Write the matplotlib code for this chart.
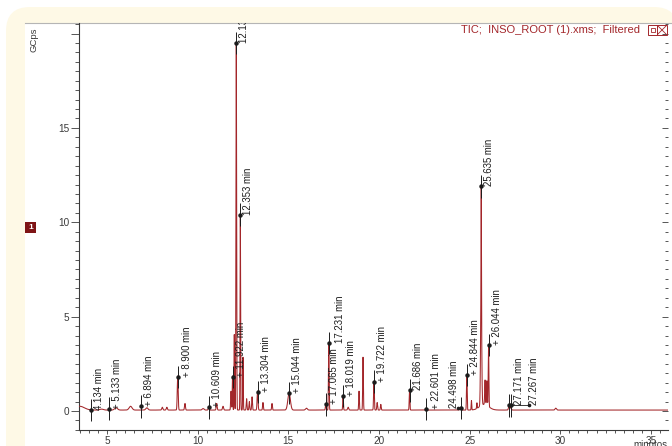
import numpy as np
import matplotlib.pyplot as plt
from matplotlib.patches import FancyBboxPatch, Rectangle
from matplotlib.transforms import IdentityTransform
from matplotlib.ticker import MultipleLocator

plt.rcParams['font.family'] = ['Liberation Sans', 'DejaVu Sans']

W, H = 672, 446
RED = "#a3262a"
INK = "#1c1c1c"
AXIS = "#3a3a3a"
CREAM = "#fef9e6"

# ── peak table: retention time (min), height (GCps), sigma (min)
peak_rt = [3.5, 4.7, 5.5, 6.3, 7.2, 8.05, 8.3, 8.9, 9.3, 10.3, 10.609, 11.05,
           11.4, 11.84, 11.922, 12.02, 12.13, 12.353, 12.5, 12.7, 12.85, 13.0,
           13.304, 13.6, 14.1, 15.044, 16.0, 17.065, 17.231, 18.019, 18.3, 18.9,
           19.12, 19.722, 19.9, 20.1, 21.686, 22.601, 24.498, 24.844, 25.1, 25.4,
           25.8, 25.635, 25.64, 25.85, 25.95, 26.044, 27.171, 27.267, 29.75]
peak_height = [0.2, 0.05, 0.12, 0.2, 0.12, 0.15, 0.15, 1.8, 0.35, 0.08, 0.15, 0.35,
               0.2, 1.0, 1.8, 4.0, 19.4, 10.3, 2.8, 0.6, 0.45, 0.7,
               1.0, 0.4, 0.35, 0.9, 0.1, 0.3, 3.55, 0.75, 0.15, 1.0,
               2.8, 1.5, 0.4, 0.3, 1.05, 0.1, 0.15, 1.85, 0.5, 0.3,
               0.3, 6.3, 5.3, 1.3, 1.3, 3.2, 0.2, 0.15, 0.1]
peak_sigma = [0.25, 0.1, 0.08, 0.08, 0.06, 0.03, 0.03, 0.025, 0.025, 0.05, 0.025, 0.025,
              0.03, 0.02, 0.015, 0.015, 0.018, 0.015, 0.015, 0.02, 0.02, 0.02,
              0.025, 0.02, 0.02, 0.07, 0.05, 0.02, 0.018, 0.018, 0.03, 0.018,
              0.018, 0.02, 0.02, 0.02, 0.018, 0.03, 0.03, 0.018, 0.015, 0.015,
              0.25, 0.03, 0.01, 0.02, 0.02, 0.018, 0.03, 0.03, 0.04]
baseline_level = 0.05

# ── labelled peaks
label_rt = [4.134, 5.133, 6.894, 8.900, 10.609, 11.922, 12.13, 12.353, 13.304,
            15.044, 17.065, 17.231, 18.019, 19.722, 21.686, 22.601, 24.498,
            24.844, 25.635, 26.044, 27.171, 27.267]
label_y = [0.05, 0.12, 0.25, 1.8, 0.2, 1.8, 19.5, 10.4, 1.0,
           0.95, 0.35, 3.6, 0.8, 1.55, 1.1, 0.1, 0.15,
           1.9, 11.9, 3.5, 0.3, 0.3]
label_text = ["4.134 min", "+ 5.133 min", "+ 6.894 min", "+ 8.900 min", "+ 10.609 min",
              "+ 11.922 min", "12.13 min", "12.353 min", "+ 13.304 min", "+ 15.044 min",
              "+ 17.065 min", "17.231 min", "+ 18.019 min", "+ 19.722 min", "21.686 min",
              "+ 22.601 min", "24.498 min", "+ 24.844 min", "25.635 min", "+ 26.044 min",
              "27.171 min", "27.267 min"]

x_ticks = [5, 10, 15, 20, 25, 30, 35]
y_ticks = [0, 5, 10, 15, 20]
y_ticklabels = ["0", "5", "10", "15", ""]

fig = plt.figure(figsize=(W / 100, H / 100), dpi=100, facecolor="white")

# cream frame + white panel (pixel coords)
fig.patches.append(FancyBboxPatch((6, -60), 672, 499, boxstyle="round,pad=0,rounding_size=24",
                                  transform=IdentityTransform(), facecolor=CREAM,
                                  edgecolor="none", zorder=-3))
fig.patches.append(Rectangle((25, -5), 660, H - 23 + 5, transform=IdentityTransform(),
                             facecolor="white", edgecolor="none", zorder=-2))
fig.lines.append(plt.Line2D([25, W], [H - 23, H - 23], transform=IdentityTransform(),
                            color="#b5b5b5", lw=0.8, zorder=-1))

left, right, top, bottom = 79, 668, 23, 430
ax = fig.add_axes([left / W, (H - bottom) / H, (right - left) / W, (bottom - top) / H])
ax.set_facecolor("none")

t = np.linspace(3.4, 36.0, 30000)
sig = np.full_like(t, baseline_level)
for rt, h, s in zip(peak_rt, peak_height, peak_sigma):
    sig += h * np.exp(-0.5 * ((t - rt) / s) ** 2)
ax.plot(t, sig, color=RED, lw=0.75, zorder=3)

# peak markers
ax.vlines(label_rt, np.array(label_y) - 0.6, np.array(label_y) + 0.6,
          color=INK, lw=0.7, zorder=4)
ax.plot(label_rt, label_y, "o", color=INK, ms=2.2, zorder=5)

offsets = {"24.498 min": (-12, 0), "27.171 min": (5, 0), "27.267 min": (18, 0),
           "17.231 min": (6, 0), "+ 8.900 min": (4, 0), "+ 22.601 min": (5, 0)}
for rt, y, txt in zip(label_rt, label_y, label_text):
    dx, dy = offsets.get(txt, (3, 0))
    ax.annotate(txt, (rt, y), xytext=(dx, dy), textcoords="offset pixels",
                rotation=90, ha="left", va="bottom", fontsize=6.9, color=INK,
                annotation_clip=False, clip_on=True, zorder=6)

# leader lines for the shifted labels
for rt, y, txt in zip(label_rt, label_y, label_text):
    if txt in ("24.498 min", "27.267 min"):
        dx = offsets[txt][0]
        x_end = rt + (dx + (9 if dx < 0 else 0)) / 18.13
        ax.plot([rt, x_end], [y, y], color=INK, lw=0.6, zorder=4)
        ax.plot([x_end], [y], "o", color=INK, ms=1.6, zorder=5)

ax.set_xlim(3.456, 35.94)
ax.set_ylim(-1.007, 20.56)

ax.set_xticks(x_ticks)
ax.xaxis.set_minor_locator(MultipleLocator(0.5))
ax.set_yticks(y_ticks, y_ticklabels)
ax.yaxis.set_minor_locator(MultipleLocator(0.5))
ax.tick_params(axis="x", which="major", length=3.2, width=0.6, pad=0.8,
               labelsize=7.2, colors=AXIS)
ax.tick_params(axis="x", which="minor", length=1.8, width=0.6, colors=AXIS)
ax.tick_params(axis="y", which="major", length=5.8, width=0.6, pad=1,
               labelsize=7.2, colors=AXIS)
ax.tick_params(axis="y", which="minor", length=2.9, width=0.6, colors=AXIS)
for side in ("top", "right"):
    ax.spines[side].set_visible(False)
for side in ("left", "bottom"):
    ax.spines[side].set_color(AXIS)
    ax.spines[side].set_linewidth(0.8)

ax2 = ax.twinx()
ax2.set_ylim(ax.get_ylim())
ax2.set_yticks(y_ticks, [""] * len(y_ticks))
ax2.yaxis.set_minor_locator(MultipleLocator(0.5))
ax2.tick_params(axis="y", which="major", direction="in", length=4.3, width=0.6, colors=AXIS)
ax2.tick_params(axis="y", which="minor", direction="in", length=2.2, width=0.6, colors=AXIS)
for side in ax2.spines:
    ax2.spines[side].set_visible(False)

# header texts
fig.text(640 / W, (H - 30) / H, "TIC;  INSO_ROOT (1).xms;  Filtered", ha="right",
         va="center", fontsize=8, color=RED)
fig.patches.append(Rectangle((648, H - 35), 9, 10, transform=IdentityTransform(),
                             facecolor="none", edgecolor=RED, lw=0.7, zorder=5))
fig.patches.append(Rectangle((651, H - 32), 4, 4, transform=IdentityTransform(),
                             facecolor="none", edgecolor=RED, lw=0.6, zorder=5))
fig.patches.append(Rectangle((657, H - 35), 10, 10, transform=IdentityTransform(),
                             facecolor="none", edgecolor=RED, lw=0.7, zorder=5))
fig.lines.append(plt.Line2D([658, 666], [H - 34, H - 26], transform=IdentityTransform(),
                            color=RED, lw=0.6, zorder=5))
fig.lines.append(plt.Line2D([658, 666], [H - 26, H - 34], transform=IdentityTransform(),
                            color=RED, lw=0.6, zorder=5))

fig.text(34 / W, (H - 40) / H, "GCps", rotation=90, ha="center", va="center",
         fontsize=6.8, color=AXIS)
fig.text(650 / W, (H - 440) / H, "minutos", ha="center", va="top", fontsize=7, color=AXIS)

# sample badge
fig.patches.append(Rectangle((25, H - 233), 11, 11, transform=IdentityTransform(),
                             facecolor="#7f1416", edgecolor="none", zorder=5))
fig.text(30.5 / W, (H - 227.5) / H, "1", ha="center", va="center", fontsize=6,
         color="white", fontweight="bold", zorder=6)

fig.savefig("out.png", dpi=100, facecolor="white")
